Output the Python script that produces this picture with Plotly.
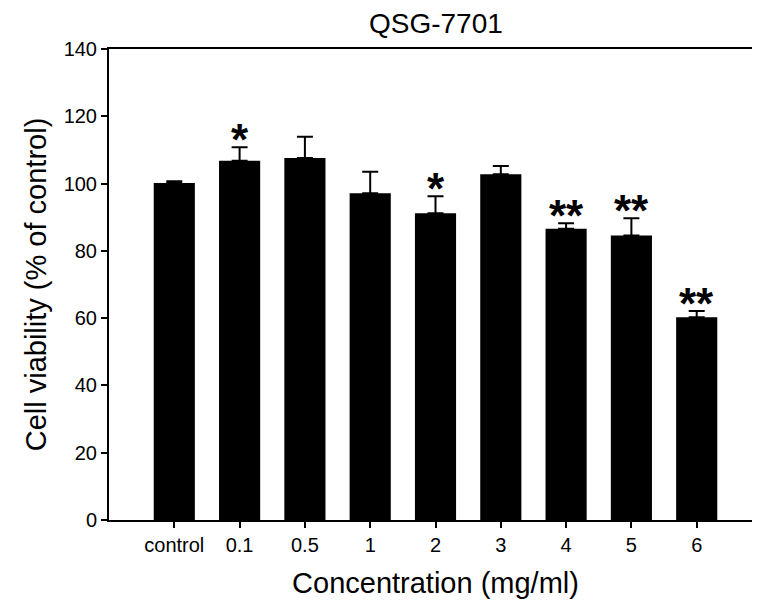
import plotly.graph_objects as go

categories = ["control", "0.1", "0.5", "1", "2", "3", "4", "5", "6"]
means = [100.2, 106.8, 107.6, 97.1, 91.2, 102.8, 86.6, 84.6, 60.3]
errors = [0.5, 4.0, 6.3, 6.4, 5.0, 2.4, 1.6, 5.1, 1.8]
signif = ["", "*", "", "", "*", "", "**", "**", "**"]
y_ticks = [0, 20, 40, 60, 80, 100, 120, 140]

FONT = "Liberation Sans, Arial, sans-serif"

fig = go.Figure()
fig.add_trace(go.Bar(
    x=categories, y=means,
    width=0.63,
    marker=dict(color="black", line=dict(width=0)),
    error_y=dict(type="data", array=errors, symmetric=False, arrayminus=[0]*len(errors),
                 color="black", thickness=2, width=8),
    showlegend=False,
))

for i, (m, e, s) in enumerate(zip(means, errors, signif)):
    if s:
        fig.add_annotation(x=i, y=m + e, text="<b>" + s + "</b>", showarrow=False,
                           xanchor="center", yanchor="middle", yshift=8,
                           font=dict(family=FONT, size=44, color="black"))

fig.update_layout(
    width=760, height=606,
    margin=dict(l=101, r=4, t=41, b=94),
    paper_bgcolor="white", plot_bgcolor="white",
    title=dict(text="QSG-7701", x=0.563, xanchor="center", y=0.975, yanchor="middle",
               yref="container", pad=dict(t=0, b=0),
               font=dict(family=FONT, size=28, color="black")),
    font=dict(family=FONT, color="black"),
)
fig.update_xaxes(
    type="category", range=[-1, 9], showline=True, linecolor="black", linewidth=2, mirror=True,
    ticks="outside", ticklen=6, tickwidth=1.5, tickcolor="black",
    tickfont=dict(size=20, family=FONT, color="black"),
    showgrid=False, zeroline=False,
    title=dict(text="Concentration (mg/ml)", font=dict(size=29, family=FONT, color="black"), standoff=18),
)
fig.update_yaxes(
    range=[0, 140], tickvals=y_ticks, showline=True, linecolor="black", linewidth=2, mirror=True,
    ticks="outside", ticklen=6, tickwidth=1.5, tickcolor="black",
    tickfont=dict(size=20, family=FONT, color="black"),
    showgrid=False, zeroline=False,
    title=dict(text="Cell viability (% of control)", font=dict(size=29, family=FONT, color="black"), standoff=8),
)

fig.write_html("out.html")
